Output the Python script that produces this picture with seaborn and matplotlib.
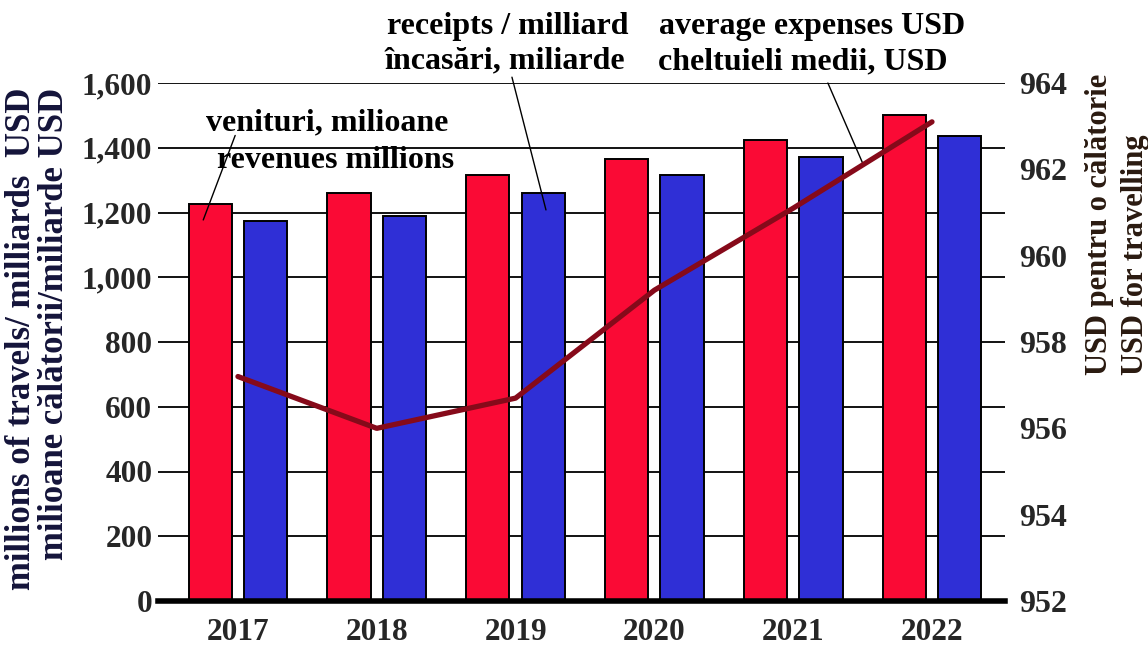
import numpy as np
import pandas as pd
import matplotlib
matplotlib.use("Agg")
import matplotlib.pyplot as plt
import seaborn as sns

# ---------------------------------------------------------------
# date
# ---------------------------------------------------------------
years = ["2017", "2018", "2019", "2020", "2021", "2022"]
revenues = [1225, 1260, 1315, 1365, 1425, 1500]      # venituri, milioane
receipts = [1175, 1190, 1260, 1315, 1370, 1435]      # incasari, miliarde
avg_expenses = [957.2, 956.0, 956.7, 959.2, 961.1, 963.1]  # USD / calatorie

left_ticks = [0, 200, 400, 600, 800, 1000, 1200, 1400, 1600]
right_ticks = [952, 954, 956, 958, 960, 962, 964]

sns.set_theme(style="white")
plt.rcParams["font.family"] = ["Liberation Serif", "DejaVu Serif"]
plt.rcParams["font.weight"] = "bold"

df = pd.DataFrame({
    "year": years * 2,
    "value": revenues + receipts,
    "serie": ["rev"] * len(years) + ["rec"] * len(years),
})

W, H = 1148, 648
fig = plt.figure(figsize=(W / 100, H / 100), dpi=100)
ax = fig.add_axes([158 / W, 1 - 601 / H, (1005 - 158) / W, (601 - 83) / H])

# gridlines behind bars
for t in left_ticks[1:]:
    ax.axhline(t, color="black", lw=1.3, zorder=0)

sns.barplot(data=df, x="year", y="value", hue="serie", hue_order=["rev", "rec"],
            palette=["#fa0a35", "#2f2fd6"], width=0.8, gap=0.22,
            edgecolor="black", linewidth=1.4, saturation=1, legend=False, ax=ax,
            zorder=2)

ax.set_ylim(0, 1600)
ax.set_xlim(-0.576, 5.526)
ax.set_yticks(left_ticks)
ax.set_yticklabels([f"{v:,}" for v in left_ticks])
ax.set_xlabel("")
ax.set_ylabel("")
ax.tick_params(axis="y", length=0, pad=4, labelsize=22.5)
ax.tick_params(axis="x", length=0, pad=12, labelsize=22.5)
for s in ["top", "left", "right"]:
    ax.spines[s].set_visible(False)
ax.spines["bottom"].set_linewidth(4)
ax.spines["bottom"].set_color("black")
ax.spines["bottom"].set_zorder(4)

# axa dreapta + linia cheltuielilor medii
ax2 = ax.twinx()
sns.lineplot(x=np.arange(len(years)), y=avg_expenses, ax=ax2,
             color="#860a1a", lw=3.8, zorder=5)
ax2.set_ylim(952, 964)
ax2.set_yticks(right_ticks)
ax2.set_yticklabels([str(v) for v in right_ticks])
ax2.tick_params(axis="y", length=0, pad=10, labelsize=23)
for s in ["top", "left", "right", "bottom"]:
    ax2.spines[s].set_visible(False)
ax2.grid(False)

# adnotari
ann = dict(ha="center", va="center", fontsize=23, fontweight="bold",
           color="black", clip_on=False, zorder=6)
ax.text(0.64, 1478, "venituri, milioane", **ann)
ax.text(0.70, 1360, "revenues millions", **ann)
ax.plot([-0.02, -0.25], [1438, 1177], color="black", lw=1, zorder=6)

ax.text(1.945, 1775, "receipts / milliard", **ann)
ax.text(1.92, 1668, "încasări, miliarde", **ann)
ax.plot([1.974, 2.219], [1618, 1208], color="black", lw=1, zorder=6,
        clip_on=False)

ax.text(4.14, 1775, "average expenses USD", **ann)
ax.text(4.07, 1665, "cheltuieli medii, USD", **ann)
ax.plot([4.25, 4.50], [1600, 1353], color="black", lw=1, zorder=6,
        clip_on=False)

# titluri axe
lab = dict(rotation=90, rotation_mode="anchor", va="center",
           fontweight="bold")
fig.text(22 / W, 1 - 88 / H, "millions of travels/ milliards  USD",
         ha="right", color="#14143a", fontsize=25, **lab)
fig.text(55 / W, 1 - 88 / H, "milioane călătorii/miliarde USD",
         ha="right", color="#14143a", fontsize=25, **lab)
fig.text(1100 / W, 1 - 375 / H, "USD pentru o călătorie",
         ha="left", color="#2a1a10", fontsize=22, **lab)
fig.text(1135 / W, 1 - 375 / H, "USD for travelling",
         ha="left", color="#2a1a10", fontsize=22, **lab)

fig.savefig("out.png", dpi=100, facecolor="white")
